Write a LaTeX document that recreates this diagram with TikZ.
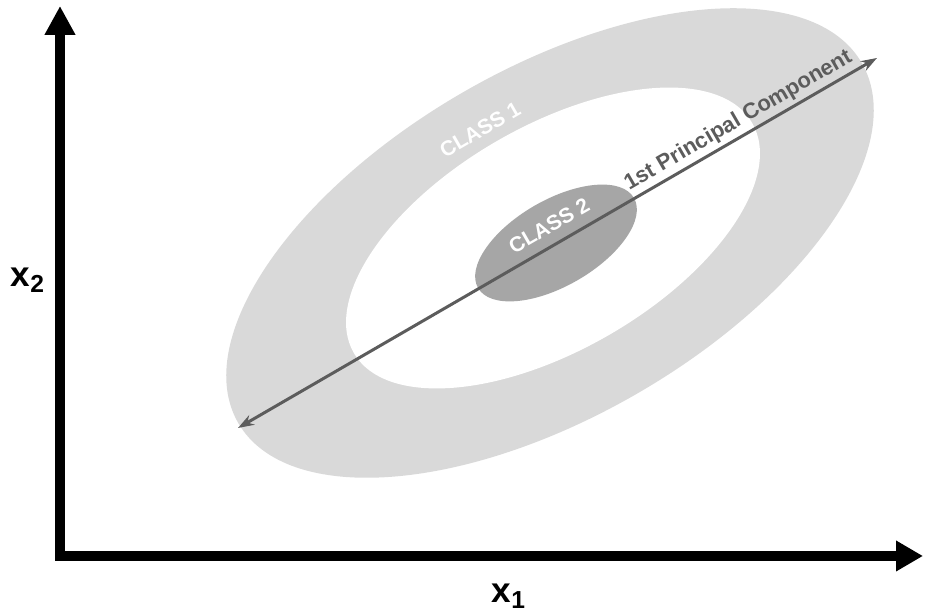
\documentclass[tikz,border=0pt]{standalone}
\usepackage{fontspec}
\setmainfont{Liberation Sans}
\usetikzlibrary{arrows.meta}
\definecolor{classone}{gray}{0.85}
\definecolor{classtwo}{gray}{0.65}
\definecolor{pcgray}{gray}{0.36}
\begin{document}
\begin{tikzpicture}[>=Stealth,
    classlabel/.style={text=white, font=\bfseries\fontsize{12}{14}\selectfont, rotate=30},
    axislabel/.style={font=\bfseries\fontsize{20}{24}\selectfont}]
    \useasboundingbox (0,0) rectangle (18.52,12.28);

    \coordinate (origin) at (1.20,1.16);
    \coordinate (xtip) at (18.46,1.16);
    \coordinate (ytip) at (1.20,12.16);

    \fill[classone, rotate around={30:(11.0,7.42)}] (11.0,7.42) ellipse (7.2 and 3.48);
    \fill[white, rotate around={30:(11.06,7.52)}] (11.06,7.52) ellipse (4.6 and 2.24);
    \fill[classtwo, rotate around={30:(11.12,7.42)}] (11.12,7.42) ellipse (1.8 and 0.86);

    \coordinate (pcstart) at (4.76,3.72);
    \coordinate (pcend) at (17.54,11.12);
    \draw[pcgray, line width=1.7pt, {Stealth[length=0.32cm,width=0.22cm]}-{Stealth[length=0.32cm,width=0.22cm]}] (pcstart) -- (pcend)
        node[pos=0.795, sloped, above=1pt, inner sep=1pt, font=\bfseries\fontsize{12.5}{15}\selectfont] (pclabel) {1st Principal Component};

    \node[classlabel] (classone) at (9.6,9.68) {CLASS 1};
    \node[classlabel] (classtwo) at (10.98,7.76) {CLASS 2};

    \draw[line width=6pt, line join=miter, {Triangle[length=0.58cm,width=0.58cm]}-{Triangle[length=0.54cm,width=0.58cm]}] (ytip) -- (origin) -- (xtip);

    \node[axislabel] (xone) at (10.18,0.36) {x\textsubscript{1}};
    \node[axislabel] (xtwo) at (0.56,6.68) {x\textsubscript{2}};
\end{tikzpicture}
\end{document}
